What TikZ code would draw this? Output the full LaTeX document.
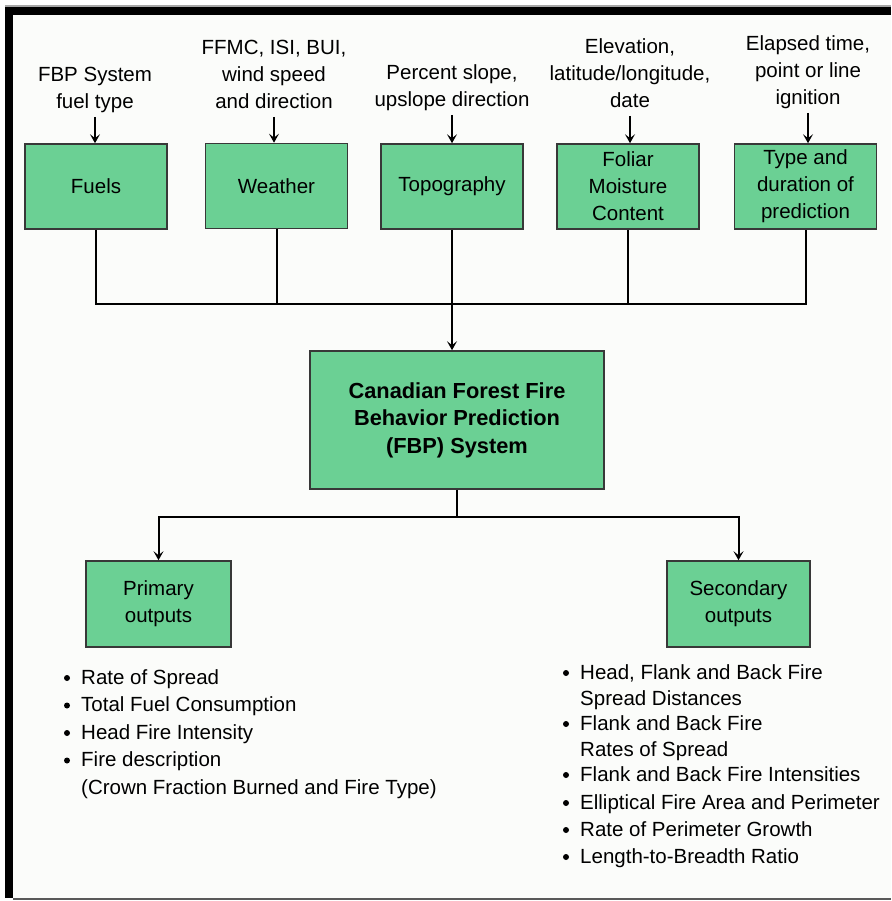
\documentclass[tikz,border=0pt]{standalone}
\usepackage{fontspec}
\setmainfont{Liberation Sans}
\usetikzlibrary{arrows.meta}
\definecolor{boxgreen}{HTML}{6BD094}
\definecolor{paper}{HTML}{FBFCFA}
\definecolor{boxedge}{HTML}{383838}

\begin{document}
\begin{tikzpicture}[x=1pt,y=-1pt,
  every node/.style={font=\fontsize{20.5}{27}\selectfont, inner sep=0pt},
  gbox/.style={draw=boxedge, line width=1.6pt, fill=boxgreen, align=center,
    minimum width=142pt, minimum height=85pt},
  lbl/.style={align=center, anchor=south},
  wire/.style={line width=2pt, draw=black},
  arr/.style={wire, -{Stealth[length=9pt,width=10pt,inset=4pt]}},
  item/.style={anchor=base west},
  dot/.style={circle, fill=black, minimum size=6pt}
]
\useasboundingbox (0,0) rectangle (891,901);

% page frame
\fill[white] (0,0) rectangle (891,901);
\fill[paper] (13,15) rectangle (891,898);
\fill[black!35] (5,5.5) rectangle (891,7);
\fill[black] (5,7) rectangle (891,15);
\fill[black] (5,7) rectangle (13,898);
\fill[black!65] (13,897.5) rectangle (891,899.5);

% input boxes
\node[gbox] (fuels)   at (96,186.5)  {Fuels};
\node[gbox] (weather) at (276.5,186) {Weather};
\node[gbox] (topo)    at (452,186.5) {Topography};
\node[gbox] (fmc)     at (628,186.5) {Foliar\\Moisture\\Content};
\node[gbox] (ptype)   at (805.5,186.5) {Type and\\duration of\\prediction};

% input descriptions
\node[lbl] (infuels)   at (95,117)  {FBP System\\fuel type\strut};
\node[lbl] (inweather) at (274,117) {FFMC, ISI, BUI,\\wind speed\\and direction\strut};
\node[lbl] (intopo)    at (452,115) {Percent slope,\\upslope direction\strut};
\node[lbl] (infmc)     at (630,116) {Elevation,\\latitude/longitude,\\date\strut};
\node[lbl] (inptype)   at (808,113) {Elapsed time,\\point or line\\ignition\strut};

\foreach \a/\b in {infuels/fuels, inweather/weather, intopo/topo, infmc/fmc, inptype/ptype}
  \draw[arr] (\a.south) -- (\a.south |- \b.north);

% central system box
\node[gbox, minimum width=294pt, minimum height=138pt,
      font=\fontsize{21.8}{27.5}\selectfont\bfseries] (fbp) at (457,420)
  {Canadian Forest Fire\\Behavior Prediction\\(FBP) System};

% collector bus
\coordinate (bus) at (452,304);
\draw[wire] (fuels.south) |- (ptype.south |- bus) -- (ptype.south);
\draw[wire] (weather.south) -- (weather.south |- bus);
\draw[wire] (fmc.south) -- (fmc.south |- bus);
\draw[arr] (topo.south) -- (topo.south |- fbp.north);

% output boxes
\node[gbox, minimum width=145pt, minimum height=86pt] (primary) at (158.5,604) {Primary\\outputs};
\node[gbox, minimum width=143pt, minimum height=86pt] (secondary) at (738.5,604) {Secondary\\outputs};

\coordinate (split) at (455,517);
\draw[arr] (fbp.south) |- (split) -| (primary.north);
\draw[arr] (fbp.south) |- (split) -| (secondary.north);

% primary outputs list
\node[dot] (pd1) at (67,678) {};
\node[item] (p1) at (81,684) {Rate of Spread};
\node[dot] (pd2) at (67,705.5) {};
\node[item] (p2) at (81,711.5) {Total Fuel Consumption};
\node[dot] (pd3) at (67,733) {};
\node[item] (p3) at (81,739) {Head Fire Intensity};
\node[dot] (pd4) at (67,760.5) {};
\node[item] (p4) at (81,766.5) {Fire description};
\node[item] (p5) at (81,794) {(Crown Fraction Burned and Fire Type)};

% secondary outputs list
\node[dot] (sd1) at (566,673) {};
\node[item] (s1) at (580,679) {Head, Flank and Back Fire};
\node[item] (s2) at (580,705) {Spread Distances};
\node[dot] (sd2) at (566,724) {};
\node[item] (s3) at (580,730) {Flank and Back Fire};
\node[item] (s4) at (580,756) {Rates of Spread};
\node[dot] (sd3) at (566,775) {};
\node[item] (s5) at (580,781.5) {Flank and Back Fire Intensities};
\node[dot] (sd4) at (566,803) {};
\node[item] (s6) at (580,809) {Elliptical Fire Area and Perimeter};
\node[dot] (sd5) at (566,830) {};
\node[item] (s7) at (580,836) {Rate of Perimeter Growth};
\node[dot] (sd6) at (566,857) {};
\node[item] (s8) at (580,863) {Length-to-Breadth Ratio};
\end{tikzpicture}
\end{document}
